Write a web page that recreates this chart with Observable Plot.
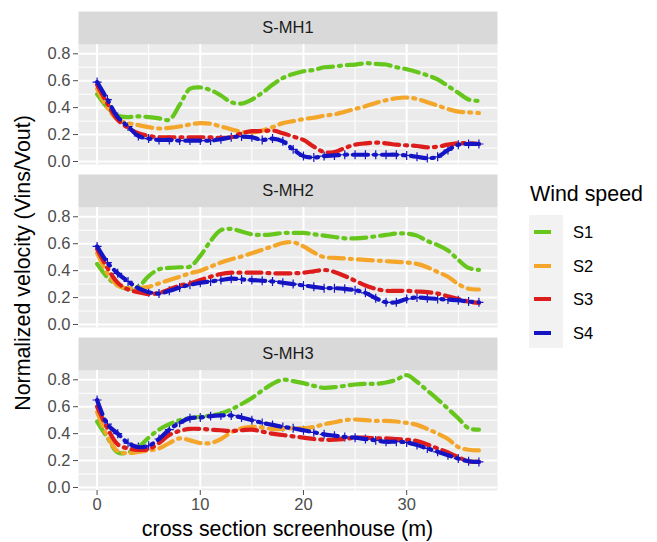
<!DOCTYPE html>
<html><head><meta charset="utf-8">
<script src="https://cdn.jsdelivr.net/npm/d3@7"></script>
<script src="https://cdn.jsdelivr.net/npm/@observablehq/plot@0.6"></script>
<style>
body{margin:0;background:#fff;font-family:"Liberation Sans",Arial,sans-serif}
#wrap{position:relative;width:657px;height:542px;overflow:hidden}
#wrap svg{position:absolute;left:0;top:0}
.lbl{position:absolute;white-space:nowrap;color:#000;line-height:1}
.key{position:absolute;background:#f2f2f2}
.sw{position:absolute;height:4px}
</style></head><body><div id="wrap"></div>
<script>
const position = [0,1,2,3,4,5,6,7,8,9,10,11,12,13,14,15,16,17,18,19,20,21,22,23,24,25,26,27,28,29,30,31,32,33,34,35,36,37];
const sites = ["S-MH1","S-MH2","S-MH3"];
const speeds = ["S1","S2","S3","S4"];
const colors = ["#66c61c","#f4a62a","#dd1c1c","#1414c4"];
const yTicks = [0,0.2,0.4,0.6,0.8];
const yMinor = [0.1,0.3,0.5,0.7];
const xTicks = [0,10,20,30];
const xMinor = [5,15,25,35];

const mh1_s1 = [0.50,0.40,0.34,0.33,0.335,0.33,0.32,0.31,0.42,0.54,0.55,0.53,0.49,0.44,0.43,0.46,0.51,0.57,0.62,0.65,0.67,0.68,0.70,0.705,0.715,0.72,0.73,0.725,0.72,0.70,0.685,0.665,0.64,0.61,0.56,0.51,0.46,0.45];
const mh1_s2 = [0.54,0.40,0.31,0.285,0.27,0.255,0.245,0.25,0.26,0.275,0.285,0.28,0.26,0.24,0.22,0.215,0.23,0.255,0.285,0.30,0.315,0.325,0.34,0.35,0.37,0.39,0.41,0.435,0.455,0.47,0.475,0.465,0.44,0.415,0.39,0.37,0.365,0.36];
const mh1_s3 = [0.57,0.43,0.31,0.25,0.21,0.19,0.18,0.18,0.18,0.18,0.18,0.18,0.175,0.18,0.21,0.225,0.225,0.23,0.21,0.185,0.16,0.11,0.07,0.07,0.10,0.125,0.135,0.14,0.135,0.125,0.12,0.115,0.105,0.11,0.125,0.135,0.135,0.13];
const mh1_s4 = [0.59,0.46,0.33,0.26,0.19,0.17,0.16,0.16,0.155,0.155,0.155,0.155,0.165,0.18,0.185,0.18,0.16,0.17,0.15,0.09,0.04,0.03,0.04,0.045,0.05,0.05,0.05,0.05,0.05,0.05,0.045,0.035,0.025,0.035,0.085,0.125,0.13,0.13];

const mh2_s1 = [0.45,0.35,0.29,0.265,0.28,0.36,0.41,0.42,0.425,0.43,0.51,0.62,0.70,0.71,0.69,0.67,0.665,0.67,0.68,0.68,0.68,0.67,0.66,0.65,0.64,0.64,0.645,0.655,0.665,0.675,0.675,0.66,0.62,0.59,0.55,0.48,0.42,0.405];
const mh2_s2 = [0.53,0.38,0.29,0.27,0.27,0.28,0.305,0.33,0.355,0.38,0.40,0.43,0.46,0.485,0.505,0.53,0.555,0.58,0.605,0.61,0.58,0.535,0.50,0.495,0.49,0.485,0.48,0.475,0.47,0.465,0.46,0.45,0.425,0.39,0.355,0.30,0.265,0.26];
const mh2_s3 = [0.56,0.42,0.31,0.26,0.24,0.225,0.235,0.26,0.29,0.305,0.33,0.355,0.375,0.385,0.385,0.385,0.385,0.38,0.38,0.38,0.385,0.395,0.405,0.39,0.36,0.325,0.29,0.265,0.25,0.25,0.25,0.245,0.24,0.23,0.21,0.19,0.17,0.16];
const mh2_s4 = [0.58,0.46,0.38,0.32,0.27,0.24,0.23,0.25,0.275,0.295,0.31,0.32,0.33,0.34,0.335,0.33,0.325,0.32,0.31,0.30,0.29,0.28,0.27,0.27,0.265,0.255,0.235,0.195,0.165,0.165,0.19,0.20,0.195,0.19,0.185,0.18,0.17,0.165];

const mh3_s1 = [0.49,0.37,0.26,0.26,0.30,0.37,0.43,0.47,0.50,0.515,0.525,0.535,0.55,0.58,0.62,0.665,0.72,0.77,0.80,0.79,0.775,0.755,0.74,0.745,0.755,0.765,0.77,0.77,0.78,0.80,0.835,0.785,0.72,0.655,0.585,0.515,0.44,0.43];
const mh3_s2 = [0.56,0.38,0.27,0.255,0.265,0.275,0.29,0.33,0.365,0.35,0.33,0.33,0.36,0.41,0.44,0.45,0.445,0.435,0.435,0.44,0.44,0.45,0.47,0.485,0.50,0.505,0.50,0.495,0.495,0.49,0.48,0.465,0.435,0.40,0.36,0.30,0.28,0.275];
const mh3_s3 = [0.60,0.44,0.32,0.29,0.28,0.285,0.33,0.39,0.42,0.435,0.435,0.43,0.425,0.42,0.425,0.43,0.415,0.40,0.39,0.38,0.37,0.36,0.355,0.355,0.36,0.37,0.37,0.365,0.365,0.36,0.355,0.345,0.32,0.29,0.26,0.225,0.195,0.19];
const mh3_s4 = [0.65,0.47,0.40,0.33,0.30,0.31,0.36,0.43,0.48,0.515,0.52,0.53,0.535,0.535,0.52,0.50,0.48,0.465,0.45,0.44,0.425,0.41,0.395,0.385,0.375,0.37,0.36,0.35,0.34,0.34,0.335,0.315,0.29,0.265,0.24,0.215,0.195,0.19];

const seriesBySite = [
  [mh1_s1, mh1_s2, mh1_s3, mh1_s4],
  [mh2_s1, mh2_s2, mh2_s3, mh2_s4],
  [mh3_s1, mh3_s2, mh3_s3, mh3_s4]
];

const rows = sites.flatMap((site, i) =>
  speeds.flatMap((speed, j) =>
    seriesBySite[i][j].map((v, k) => ({site, speed, x: position[k], v}))));

const yLo = -0.0223, yHi = 1.114, panelTop = 0.869;
const font = '"Liberation Sans", Arial, sans-serif';

const chart = Plot.plot({
  width: 657, height: 542,
  marginLeft: 78, marginRight: 160, marginTop: 10, marginBottom: 52,
  x: {domain: [-1.8, 38.8]},
  y: {domain: [yLo, yHi]},
  fy: {domain: sites, axis: null, paddingInner: 0.064, paddingOuter: 0},
  color: {domain: speeds, range: colors},
  style: {fontFamily: font, background: "white", overflow: "visible"},
  marks: [
    Plot.frame({fill: "#ebebeb", stroke: null, insetTop: 33}),
    Plot.frame({fill: "#d9d9d9", stroke: null, insetBottom: 120}),
    Plot.gridY(yMinor, {stroke: "white", strokeOpacity: 1, strokeWidth: 1}),
    Plot.gridY(yTicks, {stroke: "white", strokeOpacity: 1, strokeWidth: 2}),
    Plot.ruleX(xMinor, {y1: yLo, y2: panelTop, stroke: "white", strokeWidth: 1}),
    Plot.ruleX(xTicks, {y1: yLo, y2: panelTop, stroke: "white", strokeWidth: 2}),
    Plot.text(sites, {fy: d => d, text: d => d, frameAnchor: "top", dy: 16.5, lineAnchor: "middle", fontSize: 16.5, fill: "#1a1a1a"}),
    Plot.axisY(yTicks, {tickFormat: d3.format(".1f"), tickSize: 5, tickPadding: 3, fontSize: 16.5, color: "#4d4d4d", label: null}),
    Plot.axisX(xTicks, {tickSize: 5, tickPadding: 3, fontSize: 16.5, color: "#4d4d4d", label: null}),
    Plot.dot(rows.filter(d => d.speed === "S4"), {x: "x", y: "v", fy: "site", symbol: "plus", r: 3, stroke: "speed", strokeWidth: 1.2}),
    Plot.line(rows, {x: "x", y: "v", z: "speed", stroke: "speed", fy: "site", curve: "catmull-rom", strokeWidth: 4.2, strokeDasharray: "15,6,2,6"})
  ]
});

const wrap = document.getElementById("wrap");
wrap.appendChild(chart);

function label(text, left, top, size, extra) {
  const d = document.createElement("div");
  d.className = "lbl";
  d.textContent = text;
  d.style.left = left + "px";
  d.style.top = top + "px";
  d.style.fontSize = size + "px";
  if (extra) Object.assign(d.style, extra);
  wrap.appendChild(d);
  return d;
}

// axis titles
label("cross section screenhouse (m)", 287.5, 530, 21.4, {transform: "translate(-50%,-50%)"});
label("Normalized velocity (Vins/Vout)", 24, 263, 21.4, {transform: "translate(-50%,-50%) rotate(-90deg)"});

// legend
label("Wind speed", 530, 195, 21.4, {transform: "translateY(-50%)"});
const key = document.createElement("div");
key.className = "key";
Object.assign(key.style, {left: "529px", top: "215px", width: "34px", height: "133px"});
wrap.appendChild(key);
speeds.forEach((s, i) => {
  const cy = 232 + i * 33.6;
  const sw = document.createElement("div");
  sw.className = "sw";
  Object.assign(sw.style, {left: "534px", top: (cy - 2) + "px", width: "17px", background: colors[i]});
  wrap.appendChild(sw);
  label(s, 573, cy, 16.5, {transform: "translateY(-50%)"});
});
</script>
</body></html>
